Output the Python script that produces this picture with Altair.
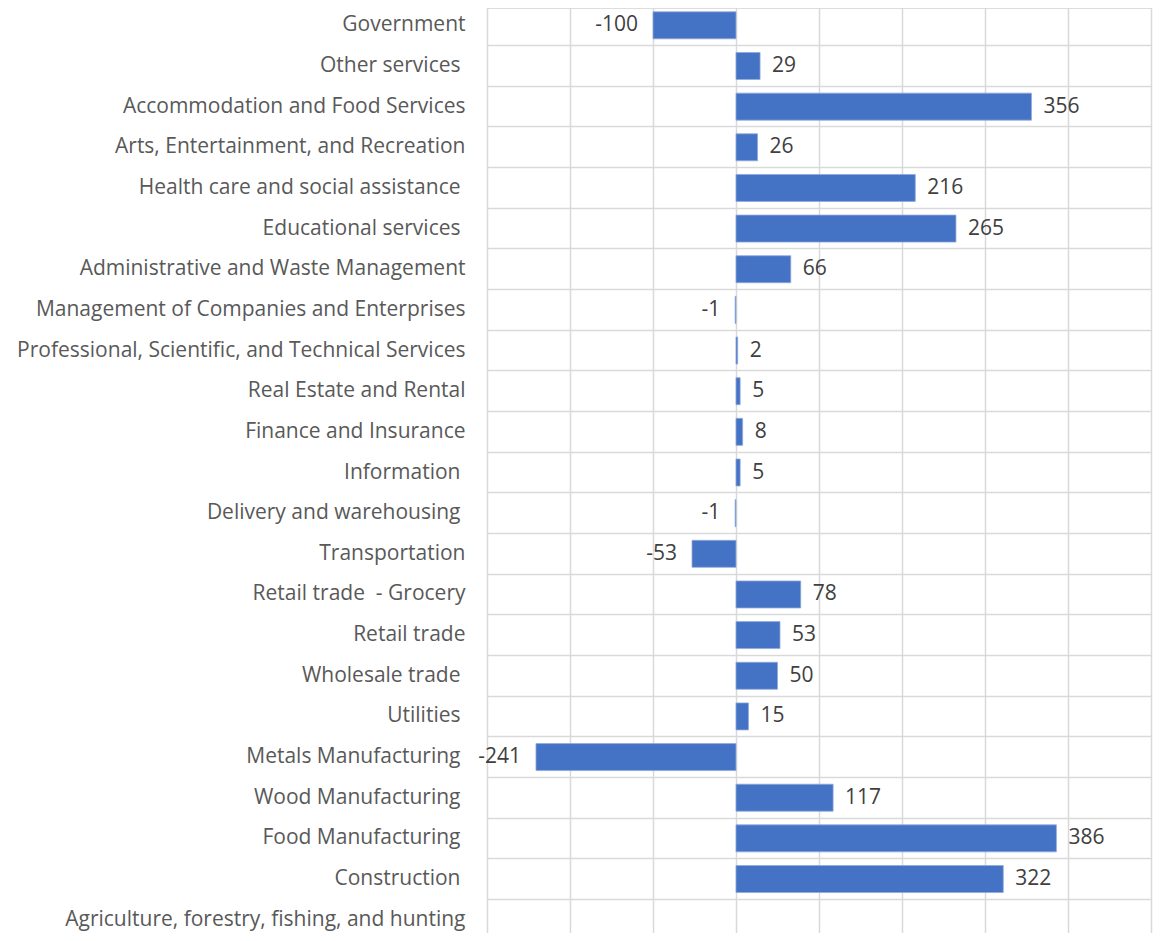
import altair as alt
import pandas as pd

categories = [
    "Government",
    "Other services ",
    "Accommodation and Food Services",
    "Arts, Entertainment, and Recreation",
    "Health care and social assistance ",
    "Educational services ",
    "Administrative and Waste Management",
    "Management of Companies and Enterprises",
    "Professional, Scientific, and Technical Services",
    "Real Estate and Rental",
    "Finance and Insurance",
    "Information ",
    "Delivery and warehousing ",
    "Transportation",
    "Retail trade\u00a0\u00a0- Grocery",
    "Retail trade",
    "Wholesale trade ",
    "Utilities ",
    "Metals Manufacturing ",
    "Wood Manufacturing ",
    "Food Manufacturing ",
    "Construction ",
    "Agriculture, forestry, fishing, and hunting",
]
values = [-100, 29, 356, 26, 216, 265, 66, -1, 2, 5, 8, 5, -1, -53, 78, 53, 50, 15,
          -241, 117, 386, 322, None]
x_ticks = [-300, -200, -100, 0, 100, 200, 300, 400, 500]

df = pd.DataFrame({"category": categories, "value": values})
df["label"] = df["value"].map(lambda v: "" if pd.isna(v) else str(int(v)))

FONT = "Open Sans"
FS = 21

trailing_space = "substring(datum.value, length(datum.value) - 1) === ' '"

y_enc = alt.Y(
    "category:N",
    sort=categories,
    scale=alt.Scale(range=[-3, 932], paddingInner=0, paddingOuter=0),
    axis=alt.Axis(
        title=None, domain=False, ticks=False,
        labelPadding={"condition": {"test": trailing_space, "value": 27}, "value": 22},
        labelFont=FONT, labelFontSize=FS, labelColor="#595959",
        grid=True, bandPosition=0, gridColor="#d9d9d9", gridWidth=1.5,
        labelLimit=600,
    ),
)
x_scale = alt.Scale(domain=[-300, 500], nice=False, zero=False)
x_axis = alt.Axis(
    title=None, labels=False, ticks=False, domain=False, grid=True,
    values=x_ticks, gridColor="#d9d9d9", gridWidth=1.5,
)

bars = alt.Chart(df).mark_bar(
    size=27, color="#4472C4", stroke="#8FAADC", strokeWidth=0.8
).encode(
    y=y_enc,
    x=alt.X("value:Q", scale=x_scale, axis=x_axis),
)

pos_text = alt.Chart(df).transform_filter("datum.value >= 0").mark_text(
    align="left", baseline="middle", dx=12, font=FONT, fontSize=FS, color="#404040"
).encode(
    y=alt.Y("category:N", sort=categories),
    x=alt.X("value:Q"),
    text="label:N",
)

neg_text = alt.Chart(df).transform_filter("datum.value < 0").mark_text(
    align="right", baseline="middle", dx=-15, font=FONT, fontSize=FS, color="#404040"
).encode(
    y=alt.Y("category:N", sort=categories),
    x=alt.X("value:Q"),
    text="label:N",
)

chart = (bars + pos_text + neg_text).properties(
    width=664,
    height=925,
    autosize=alt.AutoSizeParams(type="none"),
    padding={"left": 479, "top": 0, "right": 3, "bottom": 0},
).configure_view(stroke=None).configure(background="white")

chart.save("out.html", embed_options={"renderer": "svg", "actions": False})
